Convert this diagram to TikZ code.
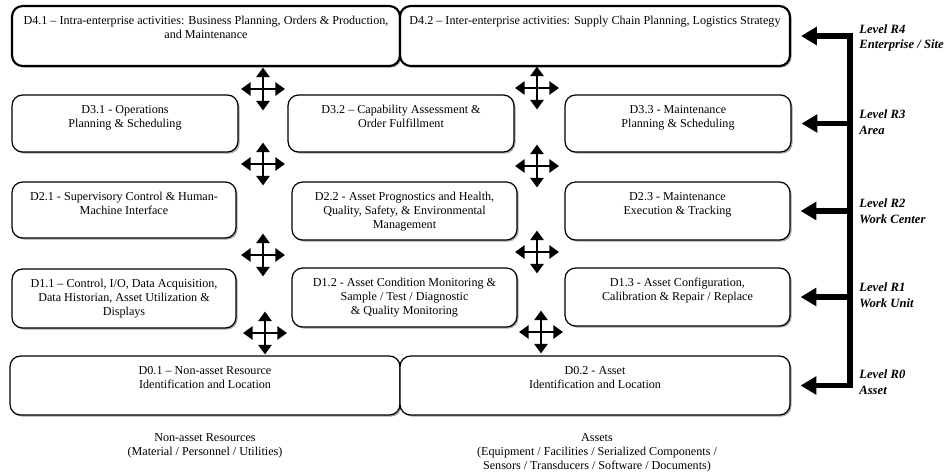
\documentclass[tikz,border=0pt]{standalone}
\usepackage{fontspec}
\setmainfont{Liberation Serif}
\usetikzlibrary{arrows.meta, shadows}

\begin{document}
\begin{tikzpicture}[x=0.02cm, y=-0.02cm, % one unit is one pixel of the original, y going down
  box/.style={draw, rounded corners=6pt, line width=0.7pt, fill=white,
    drop shadow={shadow xshift=0.9pt, shadow yshift=-0.9pt, opacity=0.7}},
  topbox/.style={box, line width=1.2pt},
  boxtext/.style={anchor=north, align=center, inner sep=0pt, font=\fontsize{6.9}{8}\selectfont},
  crossarrow/.style={line width=1.6pt, {Triangle[length=5.5pt,width=7.5pt]}-{Triangle[length=5.5pt,width=7.5pt]}},
  levelarrow/.style={line width=3pt, -{Triangle[length=9pt,width=10pt]}},
  levellabel/.style={anchor=west, align=left, inner sep=0pt, font=\fontsize{7.2}{8.8}\selectfont\bfseries\itshape},
  basetext/.style={anchor=north, align=center, inner sep=0pt, font=\fontsize{6.9}{8}\selectfont}]
	
	\useasboundingbox (0,0) rectangle (947,474);
	
	% Level R4
	\node[topbox, minimum width=7.76cm, minimum height=1.2cm] (d41) at (206,36) {};
	\node[topbox, minimum width=7.8cm, minimum height=1.2cm] (d42) at (595,36) {};
	
	% Level R3
	\node[box, minimum width=4.52cm, minimum height=1.14cm] (d31) at (125,123.5) {};
	\node[box, minimum width=4.52cm, minimum height=1.14cm] (d32) at (401,123.5) {};
	\node[box, minimum width=4.52cm, minimum height=1.14cm] (d33) at (678,123.5) {};
	
	% Level R2
	\node[box, minimum width=4.48cm, minimum height=1.12cm] (d21) at (124,210) {};
	\node[box, minimum width=4.5cm, minimum height=1.16cm] (d22) at (404.5,211) {};
	\node[box, minimum width=4.5cm, minimum height=1.16cm] (d23) at (677.5,211) {};
	
	% Level R1
	\node[box, minimum width=4.48cm, minimum height=1.18cm] (d11) at (124,298.5) {};
	\node[box, minimum width=4.5cm, minimum height=1.18cm] (d12) at (404.5,297.5) {};
	\node[box, minimum width=4.5cm, minimum height=1.16cm] (d13) at (677.5,297) {};
	
	% Level R0
	\node[box, minimum width=7.8cm, minimum height=1.18cm] (d01) at (205,385.5) {};
	\node[box, minimum width=7.8cm, minimum height=1.18cm] (d02) at (595,385.5) {};
	
	% Box texts, hung from the top edge
	\node[boxtext] (t41) at ([yshift=-6pt]d41.north) {D4.1 -- Intra-enterprise activities: Business Planning, Orders \& Production,\\and Maintenance};
	\node[boxtext] (t42) at ([yshift=-6pt]d42.north) {D4.2 -- Inter-enterprise activities: Supply Chain Planning, Logistics Strategy};
	\node[boxtext] (t31) at ([yshift=-6pt]d31.north) {D3.1 - Operations\\Planning \& Scheduling};
	\node[boxtext] (t32) at ([yshift=-6pt]d32.north) {D3.2 -- Capability Assessment \&\\Order Fulfillment};
	\node[boxtext] (t33) at ([yshift=-6pt]d33.north) {D3.3 - Maintenance\\Planning \& Scheduling};
	\node[boxtext] (t21) at ([yshift=-6pt]d21.north) {D2.1 - Supervisory Control \& Human-\\Machine Interface};
	\node[boxtext] (t22) at ([yshift=-6pt]d22.north) {D2.2 - Asset Prognostics and Health,\\Quality, Safety, \& Environmental\\Management};
	\node[boxtext] (t23) at ([yshift=-6pt]d23.north) {D2.3 - Maintenance\\Execution \& Tracking};
	\node[boxtext] (t11) at ([yshift=-6pt]d11.north) {D1.1 -- Control, I/O, Data Acquisition,\\Data Historian, Asset Utilization \&\\Displays};
	\node[boxtext] (t12) at ([yshift=-6pt]d12.north) {D1.2 - Asset Condition Monitoring \&\\Sample / Test / Diagnostic\\\& Quality Monitoring};
	\node[boxtext] (t13) at ([yshift=-6pt]d13.north) {D1.3 - Asset Configuration,\\Calibration \& Repair / Replace};
	\node[boxtext] (t01) at ([yshift=-6pt]d01.north) {D0.1 -- Non-asset Resource\\Identification and Location};
	\node[boxtext] (t02) at ([yshift=-6pt]d02.north) {D0.2 - Asset\\Identification and Location};
	
	% Four-way arrows between the rows
	\foreach \cx/\cy [count=\i] in {263/89, 537/88, 263/164, 537/166, 263/255, 537/252, 265/333, 541/332} {
		\coordinate (x\i) at (\cx,\cy);
		\draw[crossarrow] ([xshift=-0.44cm]x\i) -- ([xshift=0.44cm]x\i);
		\draw[crossarrow] ([yshift=0.43cm]x\i) -- ([yshift=-0.43cm]x\i);
	}
	
	% Level bus on the right
	\coordinate (bus4) at (850,36);
	\coordinate (bus3) at (850,123.5);
	\coordinate (bus2) at (850,211);
	\coordinate (bus1) at (850,297);
	\coordinate (bus0) at (850,385.5);
	\draw[levelarrow, line join=miter] (bus0) -- (bus4) -- ([xshift=0.2cm]d42.east);
	\draw[levelarrow] (bus3) -- ([xshift=0.2cm]d33.east);
	\draw[levelarrow] (bus2) -- ([xshift=0.2cm]d23.east);
	\draw[levelarrow] (bus1) -- ([xshift=0.2cm]d13.east);
	\draw[levelarrow, line join=miter] ([yshift=1.5pt]bus0) -- (bus0) -- ([xshift=0.2cm]d02.east);
	
	% Level labels
	\node[levellabel] (l4) at (859,38) {Level R4\\Enterprise / Site};
	\node[levellabel] (l3) at (859,122) {Level R3\\Area};
	\node[levellabel] (l2) at (859,211) {Level R2\\Work Center};
	\node[levellabel] (l1) at (859,295) {Level R1\\Work Unit};
	\node[levellabel] (l0) at (859,382) {Level R0\\Asset};
	
	% Resources under the bottom row
	\node[basetext] (nonasset) at (205,433) {Non-asset Resources\\(Material / Personnel / Utilities)};
	\node[basetext] (assets) at (597,433) {Assets\\(Equipment / Facilities / Serialized Components /\\Sensors / Transducers / Software / Documents)};
	
\end{tikzpicture}
\end{document}
